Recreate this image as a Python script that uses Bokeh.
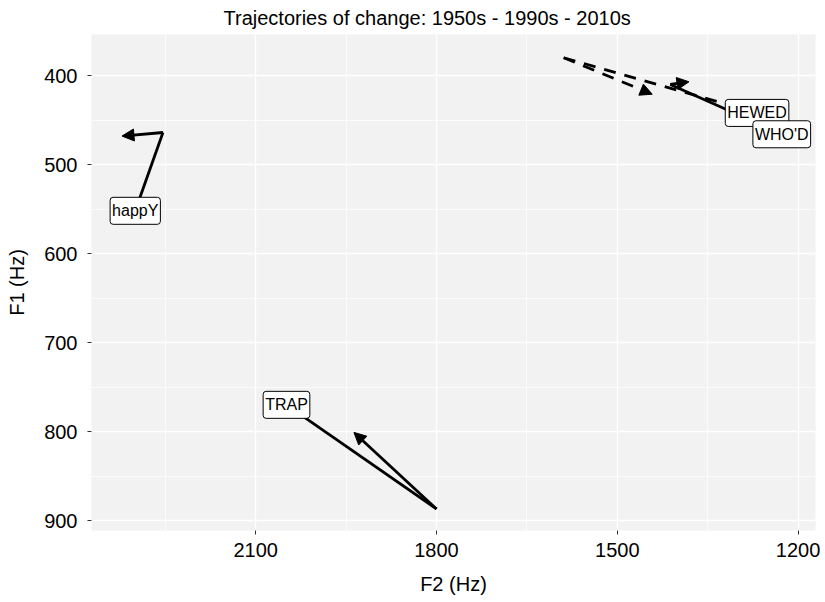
from bokeh.plotting import figure
from bokeh.models import (Range1d, FixedTicker, ColumnDataSource, Arrow, NormalHead, Label, Title)
from bokeh.embed import file_html
from bokeh.resources import INLINE

# ---- data ----
vowels   = ["TRAP", "happY", "HEWED", "WHO'D"]
f2_1950s = [2049, 2300, 1268, 1227]
f1_1950s = [770, 552, 442, 466]
f2_1990s = [1800, 2254, 1589, 1412]
f1_1990s = [887, 464, 380, 410]
f2_2010s = [1937, 2322, 1442, 1381]
f1_2010s = [801, 468, 421, 407]
dashed_vowels = ["HEWED"]

x_ticks = [2100, 1800, 1500, 1200]
x_minor = [2250, 1950, 1650, 1350]
y_ticks = [400, 500, 600, 700, 800, 900]
y_minor = [450, 550, 650, 750, 850]
title_text = "Trajectories of change: 1950s - 1990s - 2010s"

FONT = "Liberation Sans"

p = figure(width=825, height=602, output_backend="svg", toolbar_location=None,
           x_range=Range1d(2372.6, 1171), y_range=Range1d(911.2, 353.9),
           min_border_left=91, min_border_right=10, min_border_top=34, min_border_bottom=72)
p.title = None
p.add_layout(Title(text=title_text, text_font=FONT, text_font_size="20px",
                   text_font_style="normal", text_color="black", align="left",
                   offset=132, standoff=8, vertical_align="top"), "above")

p.background_fill_color = "#F2F2F2"
p.border_fill_color = "white"
p.outline_line_color = None

p.xaxis.ticker = FixedTicker(ticks=x_ticks, minor_ticks=x_minor)
p.yaxis.ticker = FixedTicker(ticks=y_ticks, minor_ticks=y_minor)
for g in (p.xgrid, p.ygrid):
    g.grid_line_color = "white"
    g.grid_line_width = 1.4
    g.minor_grid_line_color = "white"
    g.minor_grid_line_width = 0.7
for ax in (p.xaxis, p.yaxis):
    ax.axis_line_color = None
    ax.major_tick_line_color = "#333333"
    ax.major_tick_out = 4
    ax.major_tick_in = 0
    ax.minor_tick_line_color = None
    ax.major_label_text_font = FONT
    ax.major_label_text_font_size = "20px"
    ax.major_label_text_color = "black"
    ax.axis_label_text_font = FONT
    ax.axis_label_text_font_size = "20px"
    ax.axis_label_text_font_style = "normal"
    ax.axis_label_text_color = "black"
p.xaxis.axis_label = "F2 (Hz)"
p.yaxis.axis_label = "F1 (Hz)"
p.xaxis.major_label_standoff = 8
p.yaxis.major_label_standoff = 10
p.xaxis.axis_label_standoff = 13
p.yaxis.axis_label_standoff = 13

LW = 2.8
for style in ("solid", "dashed"):
    idx = [i for i, v in enumerate(vowels) if (v in dashed_vowels) == (style == "dashed")]
    seg = ColumnDataSource(dict(x0=[f2_1950s[i] for i in idx], y0=[f1_1950s[i] for i in idx],
                                x1=[f2_1990s[i] for i in idx], y1=[f1_1990s[i] for i in idx]))
    dash = "solid" if style == "solid" else "12 9"
    p.segment("x0", "y0", "x1", "y1", source=seg, line_color="black", line_width=LW,
              line_dash=dash, line_cap="butt")
    arr = ColumnDataSource(dict(x0=[f2_1990s[i] for i in idx], y0=[f1_1990s[i] for i in idx],
                                x1=[f2_2010s[i] for i in idx], y1=[f1_2010s[i] for i in idx]))
    p.add_layout(Arrow(end=NormalHead(size=12, fill_color="black", line_color="black", line_width=1),
                       x_start="x0", y_start="y0", x_end="x1", y_end="y1", source=arr,
                       line_color="black", line_width=LW, line_dash=dash))

for v, x, y in zip(vowels, f2_1950s, f1_1950s):
    p.add_layout(Label(x=x, y=y, text=v, text_align="center", text_baseline="middle",
                       text_font=FONT, text_font_size="16px", text_color="black",
                       background_fill_color="white", border_line_color="black",
                       border_line_width=1, border_radius=3, padding=(2, 5)))

open("out.html", "w").write(file_html(p, INLINE))
